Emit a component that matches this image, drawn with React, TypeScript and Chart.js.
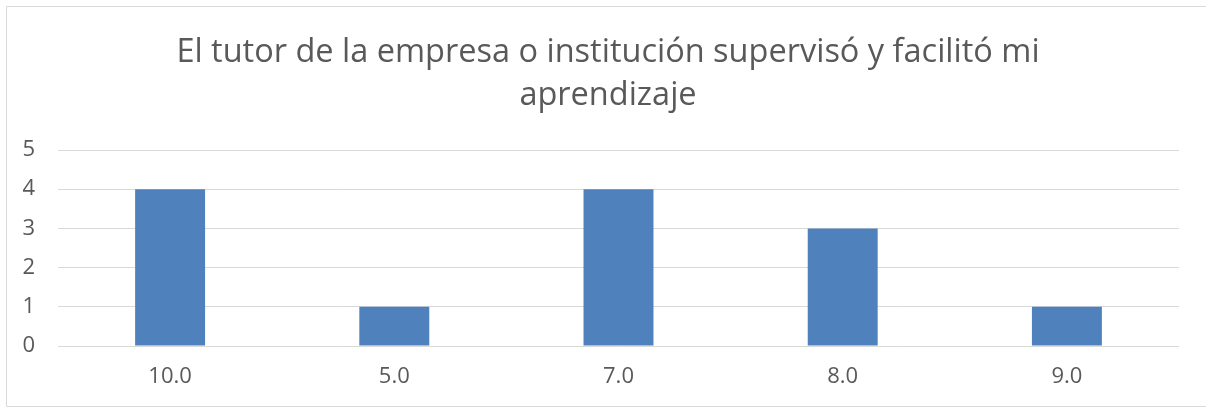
import React, { useEffect, useRef } from "react";
import { Chart, registerables } from "chart.js";

Chart.register(...registerables);

const categories: string[] = ["10.0", "5.0", "7.0", "8.0", "9.0"];
const counts: number[] = [4, 1, 4, 3, 1];
const titleLines: string[] = [
  "El tutor de la empresa o institución supervisó y facilitó mi",
  "aprendizaje",
];
const yMin = 0;
const yMax = 5;
const yStep = 1;

const FONT = "'Open Sans', 'Liberation Sans', sans-serif";
const TEXT = "#595959";
const GRID = "#d9d9d9";
const BAR = "#4f81bd";

const borderPlugin = {
  id: "outerBorder",
  beforeDraw(chart: any) {
    const ctx = chart.ctx;
    ctx.save();
    ctx.strokeStyle = GRID;
    ctx.lineWidth = 1;
    ctx.beginPath();
    ctx.moveTo(1212, 6.5);
    ctx.lineTo(6.5, 6.5);
    ctx.lineTo(6.5, 406.5);
    ctx.lineTo(1212, 406.5);
    ctx.stroke();
    ctx.restore();
  },
};

const titlePlugin = {
  id: "chartTitle",
  afterDraw(chart: any) {
    const ctx = chart.ctx;
    ctx.save();
    ctx.fillStyle = TEXT;
    ctx.font = `normal 32.5px ${FONT}`;
    ctx.textAlign = "center";
    ctx.textBaseline = "alphabetic";
    titleLines.forEach((line, i) => {
      ctx.fillText(line, 608, 62 + i * 43);
    });
    ctx.restore();
  },
};

export default function App() {
  const ref = useRef<HTMLCanvasElement | null>(null);

  useEffect(() => {
    document.body.style.margin = "0";
    if (!ref.current) return;
    const chart = new Chart(ref.current, {
      type: "bar",
      data: {
        labels: categories,
        datasets: [
          {
            data: counts,
            backgroundColor: BAR,
            borderWidth: 0,
            categoryPercentage: 1,
            barPercentage: 0.312,
          },
        ],
      },
      plugins: [borderPlugin, titlePlugin],
      options: {
        responsive: false,
        maintainAspectRatio: false,
        animation: false,
        layout: { padding: { left: 0, right: 27, top: 150, bottom: 0 } },
        plugins: {
          legend: { display: false },
          tooltip: { enabled: false },
          title: { display: false },
        },
        scales: {
          x: {
            grid: { display: false, drawTicks: false },
            border: { display: false },
            ticks: {
              color: TEXT,
              font: { family: FONT, size: 22 },
              padding: 18,
              maxRotation: 0,
            },
            afterFit(scale: any) {
              scale.height = 62;
            },
          },
          y: {
            min: yMin,
            max: yMax,
            grid: { color: GRID, lineWidth: 1, drawTicks: false },
            border: { display: false },
            ticks: {
              stepSize: yStep,
              color: TEXT,
              font: { family: FONT, size: 22 },
              padding: 23,
            },
            afterFit(scale: any) {
              scale.width = 58;
            },
          },
        },
      },
    });
    return () => chart.destroy();
  }, []);

  return (
    <div style={{ position: "absolute", left: 0, top: 0, width: 1206, height: 408 }}>
      <canvas ref={ref} width={1206} height={408} style={{ display: "block" }} />
    </div>
  );
}
